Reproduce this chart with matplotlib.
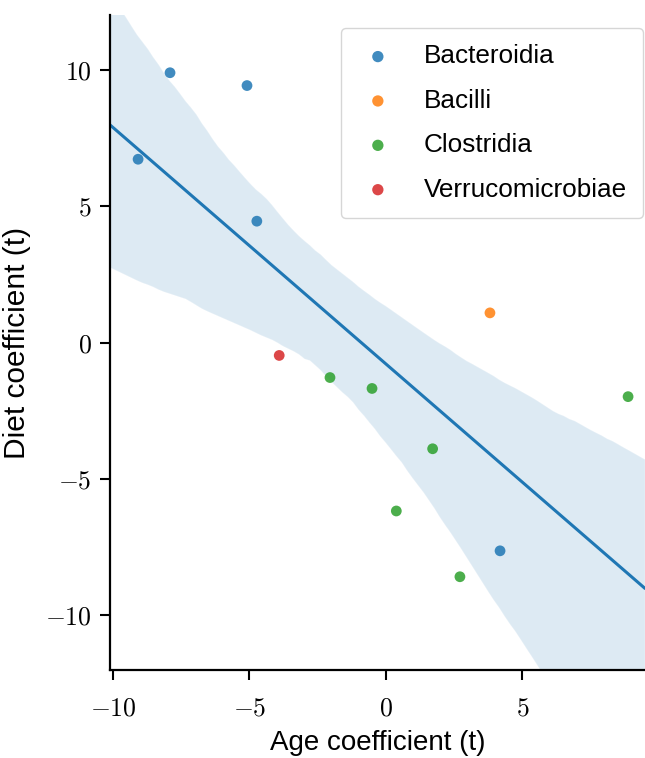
import numpy as np
import pandas as pd
import seaborn as sns
import matplotlib
matplotlib.use("Agg")
import matplotlib.pyplot as plt
from matplotlib.ticker import FuncFormatter

classes = ["Bacteroidia", "Bacilli", "Clostridia", "Verrucomicrobiae"]
colors = ["#1f77b4", "#ff7f0e", "#2ca02c", "#d62728"]

age_coef = [-9.08, -7.91, -5.09, -4.73, 4.18,
            3.81,
            -2.05, -0.51, 1.71, 0.38, 2.71, 8.87,
            -3.91]
diet_coef = [6.72, 9.89, 9.42, 4.45, -7.63,
             1.09,
             -1.28, -1.68, -3.89, -6.17, -8.58, -1.98,
             -0.47]
taxon = (["Bacteroidia"] * 5 + ["Bacilli"] + ["Clostridia"] * 6
         + ["Verrucomicrobiae"])

df = pd.DataFrame({"age": age_coef, "diet": diet_coef, "class": taxon})

sns.set_style("ticks")
plt.rcParams["font.family"] = ["Liberation Sans", "DejaVu Sans"]
plt.rcParams["mathtext.fontset"] = "cm"
plt.rcParams["text.color"] = "black"
plt.rcParams["axes.labelcolor"] = "black"
plt.rcParams["xtick.color"] = "black"
plt.rcParams["ytick.color"] = "black"

fig = plt.figure(figsize=(6.45, 7.58), dpi=100)
ax = fig.add_axes([0.1705, 0.116, 0.8295, 0.864])
ax.set_xlim(-10.11, 9.49)
ax.set_ylim(-12, 12)

sns.regplot(data=df, x="age", y="diet", scatter=False, truncate=False,
            color="#1f77b4", ci=95, seed=3, ax=ax,
            line_kws={"linewidth": 2.2})

for name, col in zip(classes, colors):
    sub = df[df["class"] == name]
    ax.scatter(sub["age"], sub["diet"], s=60, color=col, alpha=0.85,
               edgecolor="none", label=name, zorder=3)

ax.set_xlim(-10.11, 9.49)
ax.set_ylim(-12, 12)
ax.set_xticks([-10, -5, 0, 5])
ax.set_yticks([-10, -5, 0, 5, 10])
fmt = FuncFormatter(lambda v, p: r"$\mathrm{%d}$" % v)
ax.xaxis.set_major_formatter(fmt)
ax.yaxis.set_major_formatter(fmt)
ax.tick_params(labelsize=18.5, length=7, width=1.5, color="black")
ax.tick_params(axis="x", pad=12)
ax.tick_params(axis="y", pad=6)
for s in ["left", "bottom"]:
    ax.spines[s].set_linewidth(1.6)
    ax.spines[s].set_color("black")
sns.despine(ax=ax)

ax.set_xlabel("Age coefficient (t)", fontsize=20, labelpad=7)
ax.set_ylabel("Diet coefficient (t)", fontsize=21.5, labelpad=10)

leg = ax.legend(loc="upper right", bbox_to_anchor=(0.996, 0.98),
                borderaxespad=0, fontsize=18.8, markerscale=1.05,
                handlelength=1.6, handletextpad=0.95,
                labelspacing=0.78, borderpad=0.62, frameon=True)
leg.get_frame().set_edgecolor("#cccccc")

fig.savefig("out.png", dpi=100)
